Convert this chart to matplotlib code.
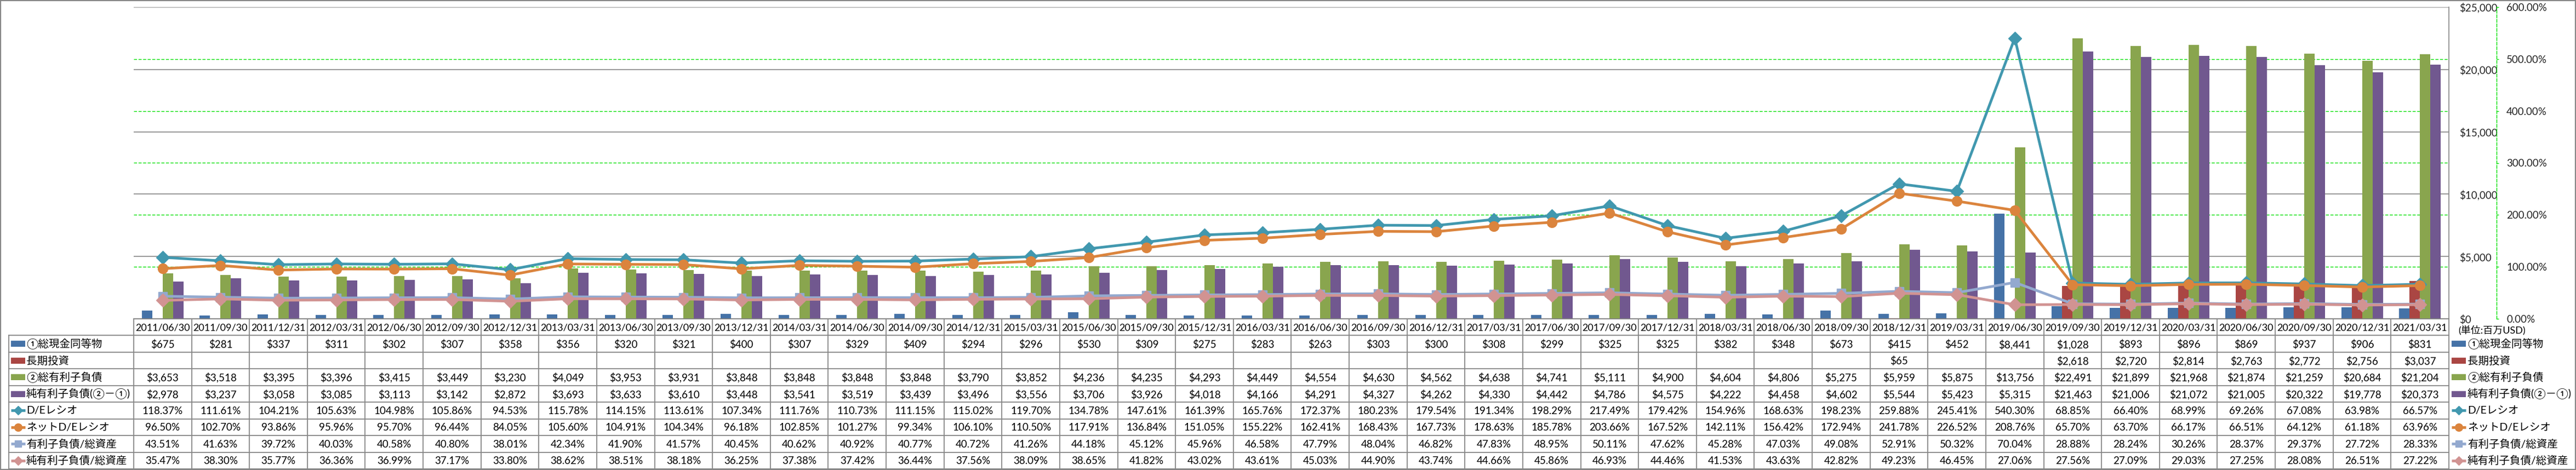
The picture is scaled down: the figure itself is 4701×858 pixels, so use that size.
import matplotlib.pyplot as plt
import matplotlib.patches as mpatches
import numpy as np

plt.rcParams['font.family'] = ['Lato', 'Noto Sans CJK JP', 'DejaVu Sans']

dates = ['2011/06/30', '2011/09/30', '2011/12/31',
         '2012/03/31', '2012/06/30', '2012/09/30', '2012/12/31',
         '2013/03/31', '2013/06/30', '2013/09/30', '2013/12/31',
         '2014/03/31', '2014/06/30', '2014/09/30', '2014/12/31',
         '2015/03/31', '2015/06/30', '2015/09/30', '2015/12/31',
         '2016/03/31', '2016/06/30', '2016/09/30', '2016/12/31',
         '2017/03/31', '2017/06/30', '2017/09/30', '2017/12/31',
         '2018/03/31', '2018/06/30', '2018/09/30', '2018/12/31',
         '2019/03/31', '2019/06/30', '2019/09/30', '2019/12/31',
         '2020/03/31', '2020/06/30', '2020/09/30', '2020/12/31',
         '2021/03/31']

# 単位: 百万USD
cash = [675, 281, 337, 311, 302, 307, 358, 356, 320, 321, 400, 307, 329, 409, 294,
        296, 530, 309, 275, 283, 263, 303, 300, 308, 299, 325, 325, 382, 348, 673,
        415, 452, 8441, 1028, 893, 896, 869, 937, 906, 831]
lt_invest = [None] * 30 + [65, None, None, 2618, 2720, 2814, 2763, 2772, 2756, 3037]
debt = [3653, 3518, 3395, 3396, 3415, 3449, 3230, 4049, 3953, 3931, 3848, 3848, 3848,
        3848, 3790, 3852, 4236, 4235, 4293, 4449, 4554, 4630, 4562, 4638, 4741, 5111,
        4900, 4604, 4806, 5275, 5959, 5875, 13756, 22491, 21899, 21968, 21874, 21259,
        20684, 21204]
net_debt = [2978, 3237, 3058, 3085, 3113, 3142, 2872, 3693, 3633, 3610, 3448, 3541,
            3519, 3439, 3496, 3556, 3706, 3926, 4018, 4166, 4291, 4327, 4262, 4330,
            4442, 4786, 4575, 4222, 4458, 4602, 5544, 5423, 5315, 21463, 21006, 21072,
            21005, 20322, 19778, 20373]

# %
de_ratio = [118.37, 111.61, 104.21, 105.63, 104.98, 105.86, 94.53, 115.78, 114.15,
            113.61, 107.34, 111.76, 110.73, 111.15, 115.02, 119.70, 134.78, 147.61,
            161.39, 165.76, 172.37, 180.23, 179.54, 191.34, 198.29, 217.49, 179.42,
            154.96, 168.63, 198.23, 259.88, 245.41, 540.30, 68.85, 66.40, 68.99, 69.26,
            67.08, 63.98, 66.57]
net_de_ratio = [96.50, 102.70, 93.86, 95.96, 95.70, 96.44, 84.05, 105.60, 104.91,
                104.34, 96.18, 102.85, 101.27, 99.34, 106.10, 110.50, 117.91, 136.84,
                151.05, 155.22, 162.41, 168.43, 167.73, 178.63, 185.78, 203.66, 167.52,
                142.11, 156.42, 172.94, 241.78, 226.52, 208.76, 65.70, 63.70, 66.17,
                66.51, 64.12, 61.18, 63.96]
debt_assets = [43.51, 41.63, 39.72, 40.03, 40.58, 40.80, 38.01, 42.34, 41.90, 41.57,
               40.45, 40.62, 40.92, 40.77, 40.72, 41.26, 44.18, 45.12, 45.96, 46.58,
               47.79, 48.04, 46.82, 47.83, 48.95, 50.11, 47.62, 45.28, 47.03, 49.08,
               52.91, 50.32, 70.04, 28.88, 28.24, 30.26, 28.37, 29.37, 27.72, 28.33]
net_debt_assets = [35.47, 38.30, 35.77, 36.36, 36.99, 37.17, 33.80, 38.62, 38.51, 38.18,
                   36.25, 37.38, 37.42, 36.44, 37.56, 38.09, 38.65, 41.82, 43.02, 43.61,
                   45.03, 44.90, 43.74, 44.66, 45.86, 46.93, 44.46, 41.53, 43.63, 42.82,
                   49.23, 46.45, 27.06, 27.56, 27.09, 29.03, 27.25, 28.08, 26.51, 27.22]

bar_names = ['①総現金同等物', '長期投資', '②総有利子負債', '純有利子負債(②－①)']
line_names = ['D/Eレシオ', 'ネットD/Eレシオ', '有利子負債/総資産', '純有利子負債/総資産']
bar_colors = ['#4572A7', '#AA4643', '#89A54E', '#71588F']
line_colors = ['#4198AF', '#DB843D', '#93A9CF', '#D19392']
line_markers = ['D', 'o', 's', 'D']
line_ms = [12.5, 13, 12, 12.5]
key_ms = [8, 10, 9, 8]

bar_data = [cash, lt_invest, debt, net_debt]
line_data = [de_ratio, net_de_ratio, debt_assets, net_debt_assets]

# layout in pixels
W, H = 4701, 858
L, R, T, B = 244, 4469, 13, 582
TB = 856
LBL = 16
GRAY = '#868686'
GREEN = '#00E000'

fig = plt.figure(figsize=(W / 100, H / 100), dpi=100)

# table / frame layer
axt = fig.add_axes([0, 0, 1, 1])
axt.set_xlim(0, W)
axt.set_ylim(H, 0)
axt.axis('off')
axt.set_zorder(-1)

ax = fig.add_axes([L / W, 1 - B / H, (R - L) / W, (B - T) / H])
n = len(dates)
x = np.arange(n)
ax.set_xlim(-0.5, n - 0.5)
ax.set_ylim(0, 25000)

w = 0.18
for i, (vals, col) in enumerate(zip(bar_data, bar_colors)):
    h = [v if v is not None else 0 for v in vals]
    ax.bar(x + (i - 1.5) * w, h, width=w, color=col, linewidth=0, zorder=2)

ax2 = ax.twinx()

ax.set_axisbelow(True)
ax.set_yticks(np.arange(0, 25001, 5000))
ax.set_yticklabels(['${:,.0f}'.format(v) for v in np.arange(0, 25001, 5000)])
ax.set_yticks(np.arange(0, 7) * 25000 / 6, minor=True)
ax.yaxis.tick_right()
ax.tick_params(axis='y', which='both', length=0, pad=13.5, labelsize=13.5, labelcolor='#222222')
ax.yaxis.grid(True, which='major', color=GRAY, lw=1.2)
ax.yaxis.grid(True, which='minor', color=GREEN, lw=1.0, ls=(0, (4, 2)))
ax.set_xticks([])
ax.spines['top'].set_visible(False)
ax.spines['left'].set_visible(False)
ax.spines['right'].set_color(GRAY)
ax.spines['bottom'].set_color(GRAY)
ax.spines['right'].set_linewidth(1.2)
ax.spines['bottom'].set_linewidth(1.2)

ax2.set_ylim(0, 600)
ax2.set_yticks(np.arange(0, 601, 100))
ax2.set_yticklabels(['{:.2f}%'.format(v) for v in np.arange(0, 601, 100)])
for s in ['top', 'left', 'bottom']:
    ax2.spines[s].set_visible(False)
ax2.spines['right'].set_position(('outward', 87 * 0.72))
ax2.spines['right'].set_color(GREEN)
ax2.spines['right'].set_linestyle((0, (4, 2)))
ax2.spines['right'].set_linewidth(1.0)
ax2.tick_params(axis='y', direction='out', length=3, width=1, color=GREEN,
                pad=10, labelsize=13.5, labelcolor='#222222')

for vals, col, mk, ms in zip(line_data, line_colors, line_markers, line_ms):
    ax2.plot(x, vals, color=col, lw=3.5, marker=mk, ms=ms, mec=col, mfc=col, zorder=3)

# table
rh = (TB - B) / 9
cw = (R - L) / n
rows_y = [B + k * rh for k in range(10)]
tkw = dict(color=GRAY, lw=1.3)
axt.plot([L, R], [rows_y[0], rows_y[0]], **tkw)
for k in range(1, 10):
    axt.plot([LBL, R], [rows_y[k], rows_y[k]], **tkw)
for i in range(n + 1):
    axt.plot([L + i * cw, L + i * cw], [B, TB], **tkw)
axt.plot([LBL, LBL], [rows_y[1], TB], **tkw)

for i, d in enumerate(dates):
    axt.text(L + (i + 0.5) * cw, B + rh / 2 + 1, d, ha='center', va='center', fontsize=13)

table_rows = []
for vals in bar_data:
    table_rows.append(['' if v is None else '${:,.0f}'.format(v) for v in vals])
for vals in line_data:
    table_rows.append(['{:.2f}%'.format(v) for v in vals])

for r, cells in enumerate(table_rows):
    yc = B + (r + 1.5) * rh + 1
    for i, s in enumerate(cells):
        axt.text(L + (i + 0.5) * cw, yc, s, ha='center', va='center', fontsize=13.5)


def legend_key(xk, yc, r):
    if r < 4:
        axt.add_patch(mpatches.Rectangle((xk, yc - 5.5), 26, 11, color=bar_colors[r], lw=0))
    else:
        j = r - 4
        axt.plot([xk, xk + 26], [yc, yc], color=line_colors[j], lw=3.5,
                 solid_capstyle='butt')
        axt.plot([xk + 13], [yc], color=line_colors[j], marker=line_markers[j],
                 ms=key_ms[j], mec=line_colors[j])


names = bar_names + line_names
for r, name in enumerate(names):
    yc = B + (r + 1.5) * rh
    legend_key(20, yc, r)
    axt.text(48, yc, name, ha='left', va='center', fontsize=14)
    legend_key(4474, yc, r)
    axt.text(4503, yc, name, ha='left', va='center', fontsize=14)

axt.text(4486, B + rh / 2 + 5, '(単位:百万USD)', ha='left', va='center', fontsize=13)

# outer frame
axt.add_patch(mpatches.Rectangle((1, 1), W - 2, H - 2, fill=False, ec=GRAY, lw=1.5))

fig.savefig('out.png', dpi=100)
